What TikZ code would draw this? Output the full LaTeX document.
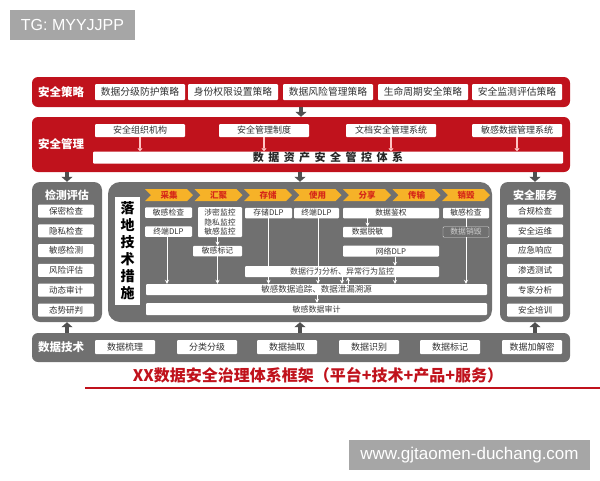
\documentclass[tikz,border=0pt]{standalone}
\usepackage{fontspec}
\setmainfont{Noto Sans CJK SC}
\newfontfamily\wmfont{Liberation Sans}
\usetikzlibrary{arrows.meta,shapes.symbols}
\definecolor{secred}{RGB}{192,18,28}
\definecolor{secgray}{RGB}{112,112,112}
\definecolor{darkarrow}{RGB}{80,80,80}
\definecolor{stageyellow}{RGB}{246,178,40}
\definecolor{stagered}{RGB}{214,40,24}
\definecolor{pinkarrow}{RGB}{255,196,196}
\definecolor{wmgray}{RGB}{166,166,166}
\begin{document}
\begin{tikzpicture}[x=1pt,y=-1pt,
  redband/.style={fill=secred,rounded corners=6pt,minimum width=538pt,inner sep=0pt},
  grayband/.style={fill=secgray,rounded corners=8pt,inner sep=0pt},
  bandlabel/.style={text=white,inner sep=0pt,font=\fontsize{11.5}{12}\selectfont\bfseries},
  itembox/.style={fill=white,rounded corners=1pt,inner sep=0pt,text=black!80,font=\fontsize{9}{10}\selectfont},
  tinybox/.style={fill=white,rounded corners=1pt,inner sep=0pt,minimum height=10.5pt,text=black!80,font=\fontsize{7.8}{9.6}\selectfont},
  bar/.style={fill=white,rounded corners=1pt,inner sep=0pt,text=black!75,font=\fontsize{8.5}{9}\selectfont},
  stage/.style={signal,signal to=east,signal from=west,fill=stageyellow,text=stagered,inner sep=0pt,minimum width=48pt,minimum height=12pt,font=\fontsize{8.5}{9}\selectfont\bfseries},
  bigarrow/.style={darkarrow,line width=4pt,-{Triangle[width=11pt,length=5pt]}},
  pinkarr/.style={pinkarrow,line width=1.2pt,-{Triangle[width=5pt,length=3pt]}},
  whitearr/.style={white,line width=0.8pt,-{Stealth[width=4pt,length=4pt]}},
  wmbox/.style={fill=wmgray,text=white,inner sep=0pt,font=\wmfont\fontsize{16}{16}\selectfont}]
\useasboundingbox (0,0) rectangle (600,480);
\node[wmbox,minimum width=125pt,minimum height=30pt] (tg) at (72.5,25) {TG: MYYJJPP};
\node[wmbox,minimum width=241pt,minimum height=30pt,font=\wmfont\fontsize{17}{17}\selectfont] (wz) at (469.5,455) {www.gjtaomen-duchang.com};
\node[redband,minimum height=30pt] (celue) at (301,92) {};
\node[bandlabel] (celueT) at (61,92) {安全策略};
\foreach \x/\t [count=\i] in {140/数据分级防护策略,233/身份权限设置策略,328/数据风险管理策略,423/生命周期安全策略,517/安全监测评估策略}
  \node[itembox,minimum width=90pt,minimum height=16pt,font=\fontsize{9.8}{10}\selectfont] (cl\i) at (\x,92) {\t};
\node[redband,minimum height=55pt] (guanli) at (301,144.5) {};
\node[bandlabel] (guanliT) at (61,144.5) {安全管理};
\foreach \x/\t [count=\i] in {140/安全组织机构,264/安全管理制度,391/文档安全管理系统,517/敏感数据管理系统}
  \node[itembox,minimum width=90pt,minimum height=13pt] (gl\i) at (\x,130.5) {\t};
\node[itembox,minimum width=470pt,minimum height=12pt,text=black!85,font=\fontsize{11}{11}\selectfont\bfseries] (tixi) at (328,157.5)
  {数\hspace{4.5pt}据\hspace{4.5pt}资\hspace{4.5pt}产\hspace{4.5pt}安\hspace{4.5pt}全\hspace{4.5pt}管\hspace{4.5pt}控\hspace{4.5pt}体\hspace{4.5pt}系};
\foreach \i in {1,...,4} \draw[pinkarr] (gl\i.south) -- (gl\i.south |- tixi.north);
\draw[bigarrow] (celue.south) -- (guanli.north);
\node[grayband,minimum width=70pt,minimum height=140pt] (jiance) at (67,252) {};
\node[bandlabel,font=\fontsize{11}{12}\selectfont\bfseries] (jianceT) at (67,195) {检测评估};
\foreach \t [count=\i] in {保密检查,隐私检查,敏感检测,风险评估,动态审计,态势研判}
  \node[itembox,minimum width=56pt,minimum height=13pt,font=\fontsize{8.5}{9}\selectfont] (jc\i) at (66,{211+19.8*(\i-1)}) {\t};
\node[grayband,minimum width=70pt,minimum height=140pt] (fuwu) at (535,252) {};
\node[bandlabel,font=\fontsize{11}{12}\selectfont\bfseries] (fuwuT) at (535,195) {安全服务};
\foreach \t [count=\i] in {合规检查,安全运维,应急响应,渗透测试,专家分析,安全培训}
  \node[itembox,minimum width=56pt,minimum height=13pt,font=\fontsize{8.5}{9}\selectfont] (fw\i) at (535,{211+19.8*(\i-1)}) {\t};
\node[grayband,minimum width=384pt,minimum height=140pt,rounded corners=12pt] (jishu) at (300,252) {};
\node[fill=white,inner sep=0pt,minimum width=25pt,minimum height=108pt,align=center,font=\fontsize{14}{17}\selectfont\bfseries] (luodi) at (127.5,251) {落\\地\\技\\术\\措\\施};
\foreach \t [count=\i] in {采集,汇聚,存储,使用,分享,传输,销毁}
  \node[stage] (st\i) at ({169+49.5*(\i-1)},195) {\t};
\node[tinybox,minimum width=47pt] (cj1) at (168.5,212.5) {敏感检查};
\node[tinybox,minimum width=47pt] (cj2) at (168.5,231.5) {终端DLP};
\node[tinybox,minimum width=44pt,minimum height=30pt,align=center] (hj1) at (220,222) {涉密监控\\隐私监控\\敏感监控};
\node[tinybox,minimum width=49pt] (hj2) at (217.5,251) {敏感标记};
\node[tinybox,minimum width=47pt] (cc1) at (268.5,213) {存储DLP};
\node[tinybox,minimum width=45pt] (sy1) at (316.5,213) {终端DLP};
\node[tinybox,minimum width=96pt] (fx1) at (391,213) {数据鉴权};
\node[tinybox,minimum width=49pt] (fx2) at (367.5,232) {数据脱敏};
\node[tinybox,minimum width=96pt,minimum height=11pt] (fx3) at (391,251) {网络DLP};
\node[tinybox,minimum width=46pt] (xh1) at (466,213) {敏感检查};
\node[tinybox,minimum width=46pt,fill=secgray,draw=white!75!secgray,text=white!65!secgray] (xh2) at (466,232) {数据销毁};
\node[bar,minimum width=194pt,minimum height=11pt,font=\fontsize{8}{9}\selectfont] (hw) at (342,271.5) {数据行为分析、异常行为监控};
\node[bar,minimum width=341pt,minimum height=11pt] (zz) at (316.5,289.5) {敏感数据追踪、数据泄漏溯源};
\node[bar,minimum width=341pt,minimum height=12pt,font=\fontsize{8}{9}\selectfont] (sj) at (316.5,309) {敏感数据审计};
\draw[whitearr] (cj2.south -| 167,0) -- (zz.north -| 167,0);
\draw[whitearr] (hj1.south -| hj2.north) -- (hj2.north);
\draw[whitearr] (hj2.south) -- (hj2.south |- zz.north);
\draw[whitearr] (cc1.south) -- (cc1.south |- zz.north);
\draw[whitearr] (sy1.south -| 318,0) -- (zz.north -| 318,0);
\draw[whitearr] (fx1.south -| fx2.north) -- (fx2.north);
\draw[whitearr] (fx3.south -| 395,0) -- (hw.north -| 395,0);
\draw[whitearr] (hw.south -| 395,0) -- (zz.north -| 395,0);
\draw[whitearr] (hw.south -| 342,0) -- (zz.north -| 342,0);
\draw[whitearr] (zz.north -| 348,0) -- (hw.south -| 348,0);
\draw[white,line width=0.8pt] (xh1.south) -- (xh2.north);
\draw[whitearr] (xh2.south) -- (xh2.south |- zz.north);
\draw[whitearr] (zz.south -| 317,0) -- (sj.north -| 317,0);
\draw[bigarrow] (guanli.south -| jiance.north) -- (jiance.north);
\draw[bigarrow] (guanli.south -| jishu.north) -- (jishu.north);
\draw[bigarrow] (guanli.south -| fuwu.north) -- (fuwu.north);
\node[grayband,minimum width=538pt,minimum height=29pt,rounded corners=6pt] (shuju) at (301,347.5) {};
\node[bandlabel] (shujuT) at (61,347.5) {数据技术};
\foreach \x/\t [count=\i] in {125/数据梳理,207/分类分级,287/数据抽取,369/数据识别,450/数据标记,532/数据加解密}
  \node[itembox,minimum width=60pt,minimum height=14pt] (sj\i) at (\x,347) {\t};
\draw[bigarrow] (shuju.north -| jiance.south) -- (jiance.south);
\draw[bigarrow] (shuju.north -| jishu.south) -- (jishu.south);
\draw[bigarrow] (shuju.north -| fuwu.south) -- (fuwu.south);
\node[text=secred,inner sep=0pt,font=\fontsize{16}{16}\selectfont\bfseries] (biaoti) at (318,375) {XX数据安全治理体系框架（平台+技术+产品+服务）};
\coordinate (redL) at (85,388);
\coordinate (redR) at (600,388);
\draw[secred,line width=2pt] (redL) -- (redR);
\end{tikzpicture}
\end{document}
